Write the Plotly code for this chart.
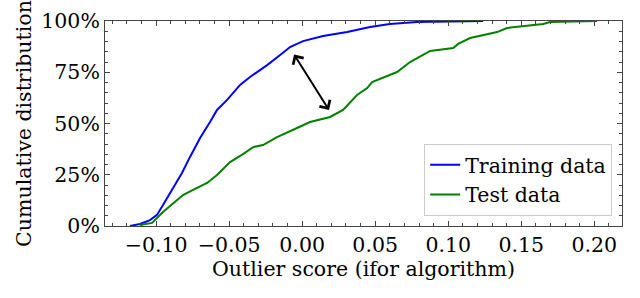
import plotly.graph_objects as go

# Training data ECDF (outlier score, cumulative fraction)
train_x = [-0.1179, -0.1110, -0.1042, -0.0994, -0.0953, -0.0884, -0.0823, -0.0768,
           -0.0699, -0.0631, -0.0583, -0.0514, -0.0425, -0.0357, -0.0240, -0.0151,
           -0.0083, 0.0006, 0.0143, 0.0308, 0.0465, 0.0600, 0.0787, 0.1239]
train_y = [0.000, 0.010, 0.029, 0.054, 0.102, 0.185, 0.259, 0.337,
           0.429, 0.507, 0.566, 0.615, 0.688, 0.727, 0.785, 0.834,
           0.873, 0.902, 0.927, 0.946, 0.971, 0.985, 0.995, 1.000]

# Test data ECDF
test_x = [-0.1110, -0.1028, -0.0953, -0.0884, -0.0816, -0.0747, -0.0651, -0.0583,
          -0.0494, -0.0405, -0.0336, -0.0268, -0.0172, -0.0035, 0.0054, 0.0191,
          0.0280, 0.0376, 0.0445, 0.0479, 0.0554, 0.0650, 0.0739, 0.0876,
          0.1034, 0.1068, 0.1150, 0.1335, 0.1403, 0.1650, 0.1698, 0.2020]
test_y = [0.005, 0.015, 0.068, 0.112, 0.151, 0.176, 0.210, 0.249,
          0.312, 0.351, 0.385, 0.395, 0.434, 0.478, 0.507, 0.532,
          0.566, 0.639, 0.673, 0.702, 0.722, 0.751, 0.800, 0.854,
          0.868, 0.888, 0.917, 0.946, 0.966, 0.985, 0.995, 1.000]

# Double-headed arrow endpoints (data coords)
arrow_start = (-0.0062, 0.844)
arrow_end = (0.0184, 0.566)

FONT = "DejaVu Serif"
FS = 20.5

fig = go.Figure()
fig.add_trace(go.Scatter(x=train_x, y=train_y, mode="lines", name="Training data",
                         line=dict(color="#0000ff", width=2)))
fig.add_trace(go.Scatter(x=test_x, y=test_y, mode="lines", name="Test data",
                         line=dict(color="#008000", width=2)))

fig.add_annotation(x=arrow_end[0], y=arrow_end[1], ax=arrow_start[0], ay=arrow_start[1],
                   xref="x", yref="y", axref="x", ayref="y", text="",
                   showarrow=True, arrowhead=4, arrowside="end+start",
                   arrowsize=1.2, arrowwidth=2, arrowcolor="black")

axis_common = dict(showline=True, linecolor="#444", linewidth=1, mirror="allticks",
                   ticks="inside", ticklen=5, tickcolor="#444", tickwidth=1,
                   showgrid=False, zeroline=False, automargin=False,
                   tickfont=dict(family=FONT, size=FS, color="black"))

fig.update_xaxes(range=[-0.135, 0.219], dtick=0.05, tick0=0, tickformat=".2f",
                 title=dict(text="Outlier score (ifor algorithm)",
                            font=dict(family=FONT, size=FS, color="black"), standoff=0),
                 minor=dict(dtick=0.01, ticks="inside", ticklen=3, tickcolor="#444"),
                 **axis_common)
fig.update_yaxes(range=[0, 1], dtick=0.25, tick0=0, tickformat=".0%",
                 title=dict(text="Cumulative distribution",
                            font=dict(family=FONT, size=FS, color="black"), standoff=4),
                 minor=dict(dtick=0.05, ticks="inside", ticklen=3, tickcolor="#444"),
                 **axis_common)

fig.update_layout(
    width=640, height=298,
    margin=dict(l=105, r=18, t=21, b=72),
    paper_bgcolor="white", plot_bgcolor="white",
    font=dict(family=FONT, size=FS, color="black"),
    legend=dict(x=0.981, y=0.049, xanchor="right", yanchor="bottom",
                bgcolor="white", bordercolor="#cccccc", borderwidth=1,
                font=dict(family=FONT, size=FS, color="black")),
)

fig.write_html("out.html", config={"displayModeBar": False},
               post_script="document.body.style.margin='0';document.body.style.overflow='hidden';")
